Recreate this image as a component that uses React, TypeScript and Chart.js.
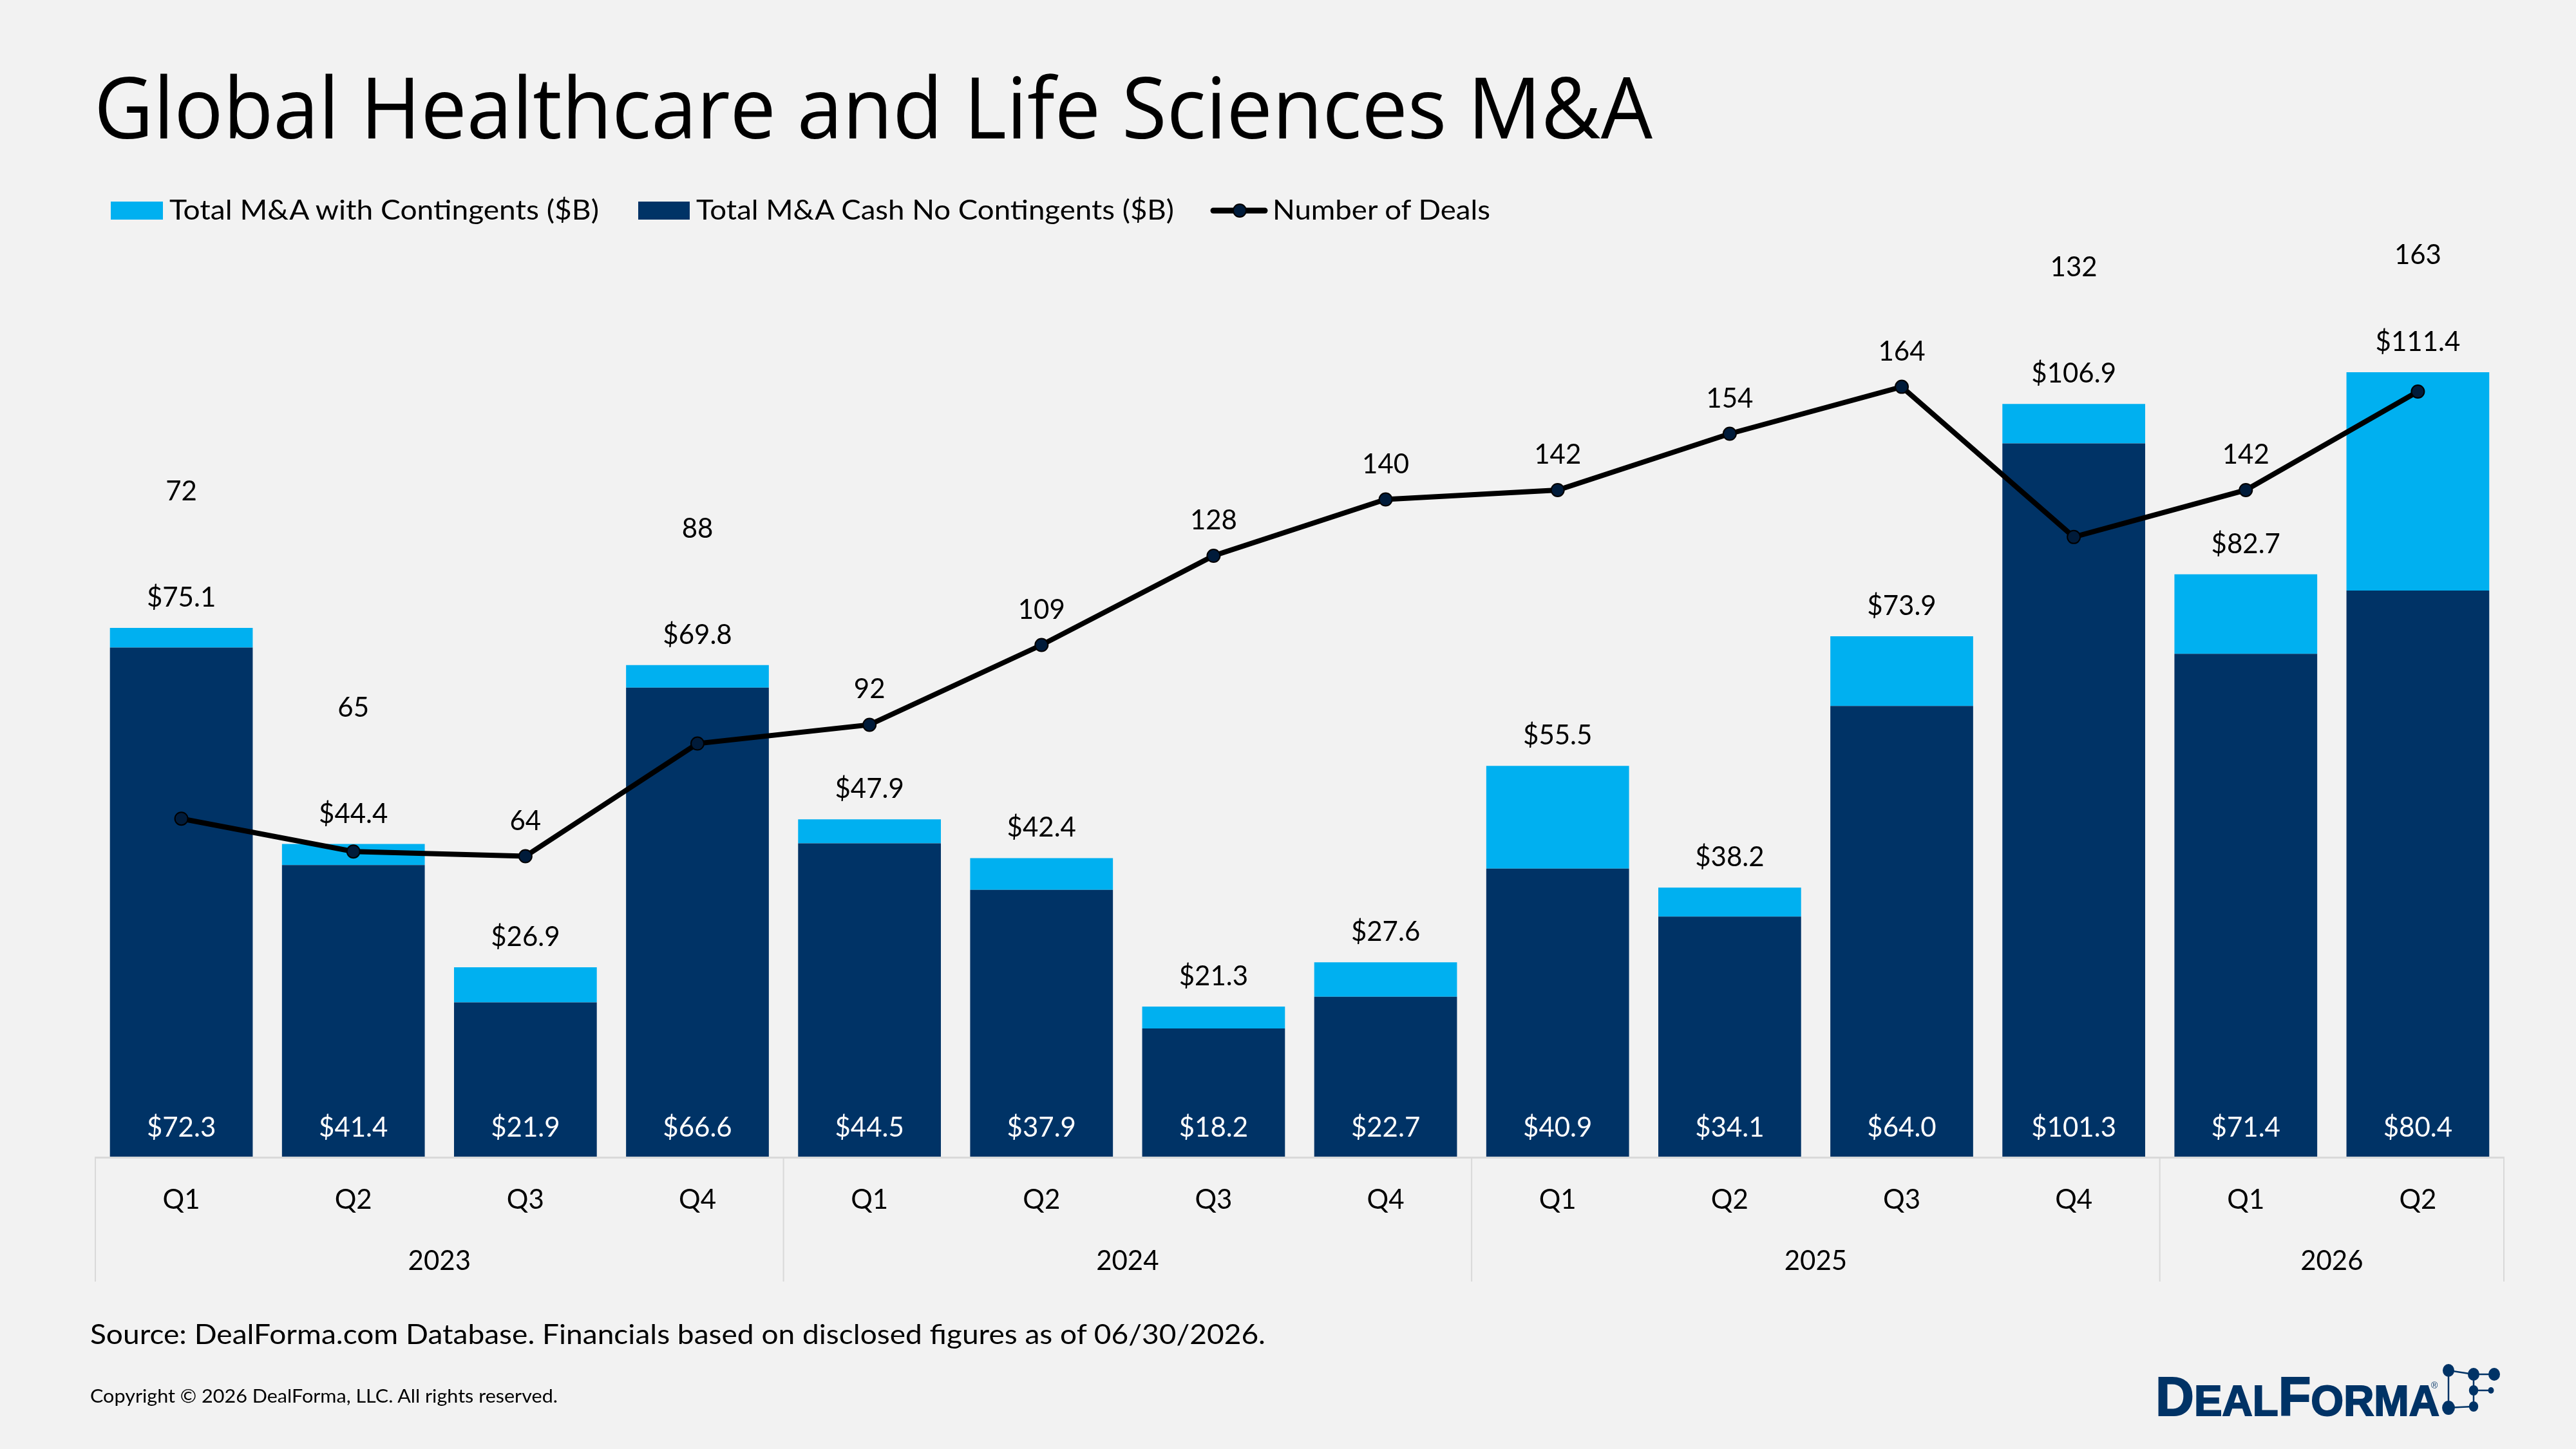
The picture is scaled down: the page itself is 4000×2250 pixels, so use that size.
import React, { useEffect, useRef } from "react";
import { Chart, registerables } from "chart.js";

Chart.register(...registerables);

// Quarterly deal data
const quarters = ["Q1", "Q2", "Q3", "Q4", "Q1", "Q2", "Q3", "Q4", "Q1", "Q2", "Q3", "Q4", "Q1", "Q2"];
const years = ["2023", "2024", "2025", "2026"];
const quartersPerYear = [4, 4, 4, 2];
const totalWithContingents = [75.1, 44.4, 26.9, 69.8, 47.9, 42.4, 21.3, 27.6, 55.5, 38.2, 73.9, 106.9, 82.7, 111.4];
const cashNoContingents = [72.3, 41.4, 21.9, 66.6, 44.5, 37.9, 18.2, 22.7, 40.9, 34.1, 64.0, 101.3, 71.4, 80.4];
const numberOfDeals = [72, 65, 64, 88, 92, 109, 128, 140, 142, 154, 164, 132, 142, 163];

const W = 4000;
const H = 2250;
const BG = "#F2F2F2";
const LIGHT = "#00B0F0";
const DARK = "#003366";
const MARKER = "#001B3A";
const AXIS_GREY = "#D9D9D9";
const FONT = "Lato, 'Open Sans', sans-serif";

const quarterYear: string[] = [];
years.forEach((yr, g) => {
  for (let k = 0; k < quartersPerYear[g]; k++) quarterYear.push(yr);
});
const categoryLabels = quarters.map((q, i) => `${q} ${quarterYear[i]}`);
const contingentPart = totalWithContingents.map((t, i) => +(t - cashNoContingents[i]).toFixed(1));

const labelPlugin = {
  id: "dealLabels",
  afterDatasetsDraw(chart: any) {
    const { ctx, scales } = chart;
    const x = scales.x;
    const y = scales.y;
    const y1 = scales.y1;
    const base = y.getPixelForValue(0);
    ctx.save();
    ctx.font = `42px ${FONT}`;
    ctx.textAlign = "center";
    ctx.textBaseline = "alphabetic";
    totalWithContingents.forEach((total, i) => {
      const cx = x.getPixelForValue(i);
      const top = y.getPixelForValue(total);
      ctx.fillStyle = "#000";
      ctx.fillText("$" + total.toFixed(1), cx, top - 33);
      ctx.fillStyle = "#fff";
      ctx.fillText("$" + cashNoContingents[i].toFixed(1), cx, base - 31);
      const py = y1.getPixelForValue(numberOfDeals[i]);
      let ly = py - 41;
      if (py > top - 20) ly = Math.max(top - 198, 410);
      ctx.fillStyle = "#000";
      ctx.fillText(String(numberOfDeals[i]), cx, ly);
    });

    // category axis: baseline, group separators, quarter and year labels
    const left = chart.chartArea.left;
    const right = chart.chartArea.right;
    const step = (right - left) / quarters.length;
    ctx.strokeStyle = AXIS_GREY;
    ctx.lineWidth = 3;
    ctx.beginPath();
    ctx.moveTo(left, base + 1.5);
    ctx.lineTo(right, base + 1.5);
    ctx.stroke();
    ctx.lineWidth = 2;
    let idx = 0;
    const bounds = [left];
    quartersPerYear.forEach((n) => {
      idx += n;
      bounds.push(left + idx * step);
    });
    bounds.forEach((bx) => {
      ctx.beginPath();
      ctx.moveTo(bx, base);
      ctx.lineTo(bx, base + 194);
      ctx.stroke();
    });
    ctx.fillStyle = "#000";
    quarters.forEach((q, i) => {
      ctx.fillText(q, x.getPixelForValue(i), base + 81);
    });
    years.forEach((yr, g) => {
      ctx.fillText(yr, (bounds[g] + bounds[g + 1]) / 2, base + 176);
    });
    ctx.restore();
  },
};

function Logo() {
  const nodes: [number, number, number][] = [
    [3802, 2128, 10],
    [3841, 2134, 10],
    [3873, 2134, 10],
    [3841, 2159, 8],
    [3868, 2159, 5],
    [3802, 2186, 11],
    [3841, 2184, 8],
  ];
  const links = [
    [0, 1],
    [1, 2],
    [0, 5],
    [1, 3],
    [3, 4],
    [3, 6],
    [5, 6],
  ];
  return (
    <g>
      <text
        x={3347}
        y={2198}
        fill={DARK}
        stroke={DARK}
        strokeWidth={2}
        fontFamily="'Liberation Sans', Arial, sans-serif"
        fontWeight={700}
        textLength={441}
        lengthAdjust="spacingAndGlyphs"
      >
        <tspan fontSize={85}>D</tspan>
        <tspan fontSize={67}>EAL</tspan>
        <tspan fontSize={85}>F</tspan>
        <tspan fontSize={67}>ORMA</tspan>
      </text>
      <text x={3775} y={2156} fill={DARK} fontSize={14} fontFamily="'Liberation Sans', sans-serif">
        ®
      </text>
      {links.map(([a, b], k) => (
        <line key={k} x1={nodes[a][0]} y1={nodes[a][1]} x2={nodes[b][0]} y2={nodes[b][1]} stroke={DARK} strokeWidth={2.5} />
      ))}
      {nodes.map(([cx, cy, r], k) => (
        <ellipse key={k} cx={cx} cy={cy} rx={r * 0.9} ry={r} fill={DARK} />
      ))}
    </g>
  );
}

export default function App() {
  const canvasRef = useRef<HTMLCanvasElement | null>(null);

  useEffect(() => {
    const canvas = canvasRef.current;
    if (!canvas) return;
    const chart = new Chart(canvas, {
      type: "bar",
      data: {
        labels: categoryLabels,
        datasets: [
          {
            type: "line",
            label: "Number of Deals",
            data: numberOfDeals,
            yAxisID: "y1",
            borderColor: "#000",
            borderWidth: 8,
            pointRadius: 10,
            pointBackgroundColor: MARKER,
            pointBorderColor: "#000",
            pointBorderWidth: 2,
            tension: 0,
            order: 0,
          } as any,
          {
            type: "bar",
            label: "Total M&A Cash No Contingents ($B)",
            data: cashNoContingents,
            backgroundColor: DARK,
            yAxisID: "y",
            stack: "m",
            barPercentage: 0.83,
            categoryPercentage: 1,
            order: 1,
          },
          {
            type: "bar",
            label: "Total M&A with Contingents ($B)",
            data: contingentPart,
            backgroundColor: LIGHT,
            yAxisID: "y",
            stack: "m",
            barPercentage: 0.83,
            categoryPercentage: 1,
            order: 1,
          },
        ],
      },
      options: {
        animation: false,
        responsive: false,
        maintainAspectRatio: false,
        devicePixelRatio: 1,
        layout: { padding: { left: 148, right: 112, top: 484, bottom: 454 } },
        plugins: {
          legend: { display: false },
          tooltip: { enabled: false },
          title: { display: false },
        },
        scales: {
          x: { display: false, stacked: true, offset: true, grid: { display: false } },
          y: { display: false, stacked: true, min: 0, max: 120 },
          y1: { display: false, min: 0, max: 180, position: "right" },
        },
      },
      plugins: [labelPlugin],
    });
    return () => chart.destroy();
  }, []);

  return (
    <div style={{ position: "absolute", left: 0, top: 0, width: W, height: H, background: BG, overflow: "hidden" }}>
      <canvas ref={canvasRef} width={W} height={H} style={{ position: "absolute", left: 0, top: 0, width: W, height: H }} />
      <svg
        width={W}
        height={H}
        viewBox={`0 0 ${W} ${H}`}
        style={{ position: "absolute", left: 0, top: 0, pointerEvents: "none" }}
      >
        <text
          x={146}
          y={215}
          fontFamily="'Open Sans', sans-serif"
          fontSize={132}
          fill="#000"
          textLength={2420}
          lengthAdjust="spacingAndGlyphs"
        >
          Global Healthcare and Life Sciences M&amp;A
        </text>

        <rect x={172} y={313} width={81} height={28} fill={LIGHT} />
        <text x={263} y={341} fontFamily={FONT} fontSize={43} fill="#000" textLength={667} lengthAdjust="spacingAndGlyphs">
          Total M&amp;A with Contingents ($B)
        </text>
        <rect x={991} y={313} width={80} height={28} fill={DARK} />
        <text x={1081} y={341} fontFamily={FONT} fontSize={43} fill="#000" textLength={742} lengthAdjust="spacingAndGlyphs">
          Total M&amp;A Cash No Contingents ($B)
        </text>
        <line x1={1884} y1={327} x2={1964} y2={327} stroke="#000" strokeWidth={9} strokeLinecap="round" />
        <circle cx={1925} cy={327} r={10} fill={MARKER} stroke="#000" strokeWidth={2} />
        <text x={1976} y={341} fontFamily={FONT} fontSize={43} fill="#000" textLength={338} lengthAdjust="spacingAndGlyphs">
          Number of Deals
        </text>

        <text x={140} y={2087} fontFamily={FONT} fontSize={42} fill="#000" textLength={1825} lengthAdjust="spacingAndGlyphs">
          Source: DealForma.com Database. Financials based on disclosed figures as of 06/30/2026.
        </text>
        <text x={140} y={2178} fontFamily={FONT} fontSize={28} fill="#000" textLength={726} lengthAdjust="spacingAndGlyphs">
          Copyright © 2026 DealForma, LLC. All rights reserved.
        </text>
        <Logo />
      </svg>
    </div>
  );
}
